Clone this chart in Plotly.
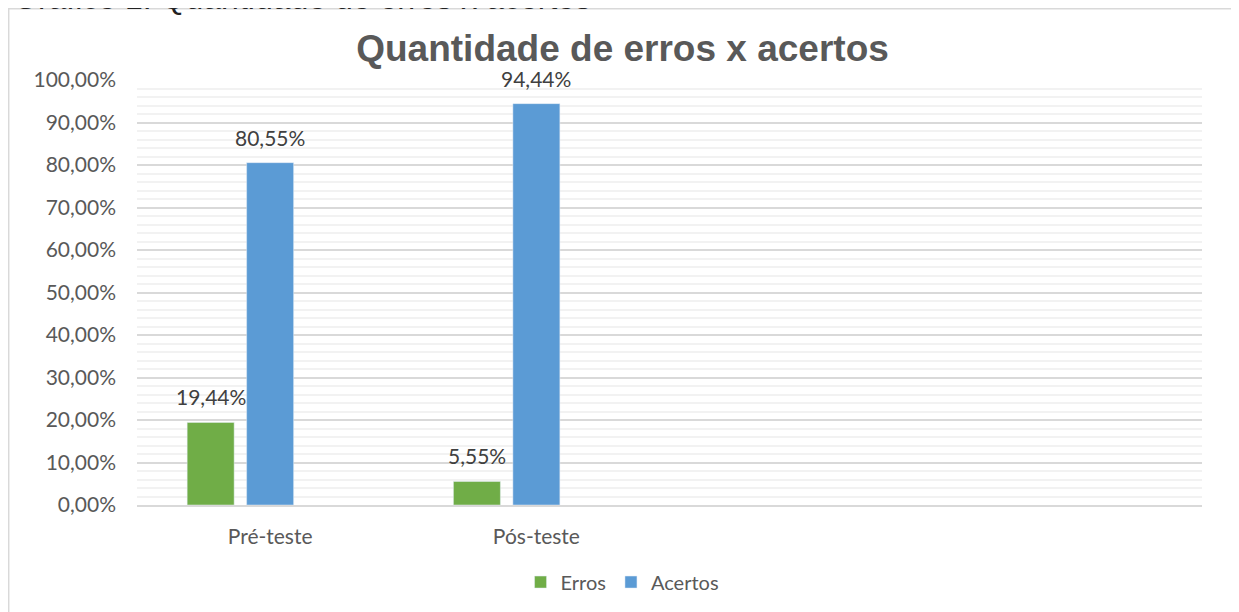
import plotly.graph_objects as go

categories = ["Pré-teste", "Pós-teste", " ", "  "]
erros = [0.1944, 0.0555, None, None]
acertos = [0.8055, 0.9444, None, None]
vazio = [None, None, None, None]

title_text = "Quantidade de erros x acertos"
caption_text = "Gráfico 1: Quantidade de erros x acertos"

W, H = 1239, 612
ML, MR, MT, MB = 129, 45, 72, 115
BARGAP, GROUPGAP = 0.33, 0.21
NSERIES = 3

label_font = dict(family="Lato", size=21, color="#404040")

fig = go.Figure()
fig.add_trace(go.Bar(name="Erros", x=categories, y=erros, marker_color="#70AD47"))
fig.add_trace(go.Bar(name="Acertos", x=categories, y=acertos, marker_color="#5B9BD5"))
fig.add_trace(go.Bar(name="", x=categories, y=vazio, showlegend=False, hoverinfo="skip"))

# data labels placed above each bar, shifted to its slot in the group
plot_w = W - ML - MR
slot = plot_w / len(categories) * (1 - BARGAP) / NSERIES
for series_idx, values in enumerate([erros, acertos]):
    for cat, v in zip(categories, values):
        if v is None:
            continue
        fig.add_annotation(x=cat, y=v, xref="x", yref="y", text=f"{v*100:.2f}%".replace(".", ","),
                           showarrow=False, yanchor="bottom", xanchor="center",
                           xshift=(series_idx - 1) * slot, yshift=11, font=label_font)

fig.update_layout(
    width=W, height=H,
    margin=dict(l=ML, r=MR, t=MT, b=MB),
    paper_bgcolor="white", plot_bgcolor="white",
    separators=",.",
    barmode="group", bargap=BARGAP, bargroupgap=GROUPGAP,
    title=dict(text=f"<b>{title_text}</b>", x=0.496, xanchor="center", y=0.934, yanchor="middle",
               yref="container", font=dict(family="Liberation Sans", size=37, color="#595959")),
    font=dict(family="Lato", size=20, color="#595959"),
    legend=dict(orientation="h", xref="container", x=0.496, xanchor="center",
                yref="container", y=0.062, yanchor="middle",
                font=dict(family="Lato", size=20, color="#595959"),
                itemwidth=30, traceorder="normal"),
    showlegend=True,
)
fig.update_yaxes(range=[0, 1], dtick=0.1, tickformat=".2%", showgrid=True, gridcolor="#d9d9d9",
                 gridwidth=1.5, zeroline=False, ticks="", ticklabelstandoff=20,
                 minor=dict(dtick=0.02, showgrid=True, gridcolor="#f2f2f2", gridwidth=1.5),
                 tickfont=dict(family="Lato", size=21, color="#595959"))
fig.update_xaxes(showline=True, linecolor="#d9d9d9", linewidth=1.5, ticks="",
                 ticklabelstandoff=12, tickfont=dict(family="Lato", size=21, color="#595959"))

# outer chart border
fig.add_shape(type="rect", xref="paper", yref="paper", x0=-0.1207, x1=1.039, y0=-0.3, y1=1.168,
              line=dict(color="#d9d9d9", width=2), fillcolor="rgba(0,0,0,0)", layer="below")

# caption cut at the top of the picture
fig.add_annotation(text=caption_text, xref="paper", yref="paper", x=-0.118, xanchor="left",
                   y=1.145, yanchor="bottom", showarrow=False,
                   font=dict(family="Liberation Sans", size=32, color="#222222"))

fig.write_html("out.html")
